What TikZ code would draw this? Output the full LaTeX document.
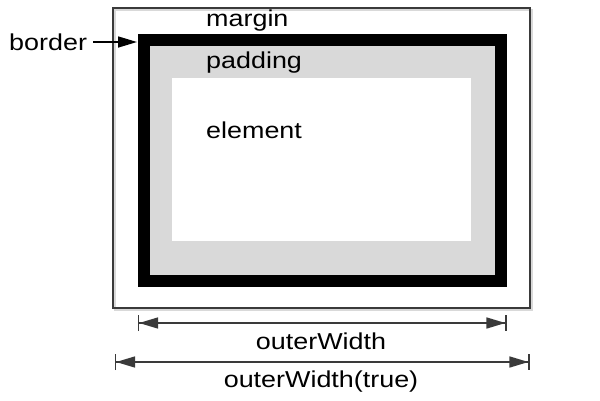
\documentclass[tikz,border=0pt]{standalone}
\usepackage{fontspec}
\setmainfont{Liberation Sans}[FakeStretch=1.17]
\usetikzlibrary{arrows.meta}
\definecolor{padgray}{HTML}{D9D9D9}
\definecolor{edgegray}{HTML}{3A3A3A}
\tikzset{
  lbl/.style={inner sep=0pt, font=\fontsize{23}{27}\selectfont, text=black},
  dimline/.style={line width=1.6pt, draw=edgegray,
    {Bar[width=16pt,line width=1.6pt]Triangle[length=19pt,width=11pt]}-{Triangle[length=19pt,width=11pt]Bar[width=16pt,line width=1.6pt]}},
  ptr/.style={line width=1.6pt, -{Triangle[length=19pt,width=11pt]}}
}
\begin{document}
\begin{tikzpicture}[x=1pt,y=-1pt]
\useasboundingbox (0,0) rectangle (600,400);
% margin box (with faint shadow)
\draw[padgray, line width=1.5pt] (115,10) rectangle (532,310);
\node[draw=edgegray, line width=1.6pt, minimum width=417pt, minimum height=300pt, inner sep=0pt] (marginbox) at (321.5,158) {};
% border and padding
\node[draw=black, fill=padgray, line width=12pt, minimum width=357pt, minimum height=241.5pt, inner sep=0pt] (borderbox) at (322,160.25) {};
% element
\node[fill=white, minimum width=299pt, minimum height=163pt, inner sep=0pt] (elementbox) at (321.5,159.5) {};
% labels
\node[lbl, anchor=base west] (margin) at (206,26) {margin};
\node[lbl, anchor=base west] (padding) at (206,68) {padding};
\node[lbl, anchor=base west] (element) at (206,138) {element};
\node[lbl, anchor=base west] (border) at (9,50) {border};
\coordinate (bordertip) at (137,42);
\coordinate (borderstart) at (93,42);
\draw[ptr] (borderstart) -- (bordertip);
% dimension lines
\coordinate (ow1) at (137.5,323);
\coordinate (ow2) at (507,323);
\draw[dimline] (ow1) -- (ow2);
\node[lbl, anchor=base] (outerw) at (321,349) {outerWidth};
\coordinate (owt1) at (114.5,362);
\coordinate (owt2) at (530,362);
\draw[dimline] (owt1) -- (owt2);
\node[lbl, anchor=base] (outerwt) at (321,387) {outerWidth(true)};
\end{tikzpicture}
\end{document}
